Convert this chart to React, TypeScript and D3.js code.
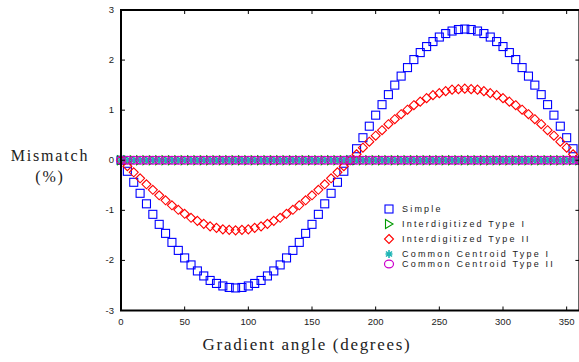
import * as d3 from "d3";
import React from "react";

const angles = [
  0, 5, 10, 15, 20, 25, 30, 35, 40, 45, 50, 55, 60, 65, 70, 75, 80, 85, 90,
  95, 100, 105, 110, 115, 120, 125, 130, 135, 140, 145, 150, 155, 160, 165, 170, 175, 180,
  185, 190, 195, 200, 205, 210, 215, 220, 225, 230, 235, 240, 245, 250, 255, 260, 265, 270,
  275, 280, 285, 290, 295, 300, 305, 310, 315, 320, 325, 330, 335, 340, 345, 350, 355, 360,
];

const simple = [
  0, -0.22, -0.44, -0.66, -0.87, -1.08, -1.28, -1.46, -1.64, -1.8, -1.95, -2.09, -2.21, -2.31, -2.4, -2.46, -2.51, -2.54, -2.55,
  -2.54, -2.51, -2.46, -2.4, -2.31, -2.21, -2.09, -1.95, -1.8, -1.64, -1.46, -1.28, -1.08, -0.87, -0.66, -0.44, -0.22, 0,
  0.23, 0.45, 0.68, 0.9, 1.11, 1.31, 1.5, 1.68, 1.85, 2.01, 2.15, 2.27, 2.37, 2.46, 2.53, 2.58, 2.61, 2.62,
  2.61, 2.58, 2.53, 2.46, 2.37, 2.27, 2.15, 2.01, 1.85, 1.68, 1.5, 1.31, 1.11, 0.9, 0.68, 0.45, 0.23, 0,
];

const interTypeII = [
  0, -0.12, -0.24, -0.36, -0.48, -0.59, -0.7, -0.8, -0.9, -0.99, -1.07, -1.15, -1.21, -1.27, -1.32, -1.35, -1.38, -1.39, -1.4,
  -1.39, -1.38, -1.35, -1.32, -1.27, -1.21, -1.15, -1.07, -0.99, -0.9, -0.8, -0.7, -0.59, -0.48, -0.36, -0.24, -0.12, 0,
  0.12, 0.25, 0.37, 0.49, 0.6, 0.72, 0.82, 0.92, 1.01, 1.1, 1.17, 1.24, 1.3, 1.34, 1.38, 1.41, 1.42, 1.43,
  1.42, 1.41, 1.38, 1.34, 1.3, 1.24, 1.17, 1.1, 1.01, 0.92, 0.82, 0.72, 0.6, 0.49, 0.37, 0.25, 0.12, 0,
];

const interTypeI = [
  0, 0, 0, 0, 0, 0, 0, 0, 0, 0, 0, 0, 0, 0, 0, 0, 0, 0, 0,
  0, 0, 0, 0, 0, 0, 0, 0, 0, 0, 0, 0, 0, 0, 0, 0, 0, 0,
  0, 0, 0, 0, 0, 0, 0, 0, 0, 0, 0, 0, 0, 0, 0, 0, 0, 0,
  0, 0, 0, 0, 0, 0, 0, 0, 0, 0, 0, 0, 0, 0, 0, 0, 0, 0,
];

const centroidTypeI = [
  0, 0, 0, 0, 0, 0, 0, 0, 0, 0, 0, 0, 0, 0, 0, 0, 0, 0, 0,
  0, 0, 0, 0, 0, 0, 0, 0, 0, 0, 0, 0, 0, 0, 0, 0, 0, 0,
  0, 0, 0, 0, 0, 0, 0, 0, 0, 0, 0, 0, 0, 0, 0, 0, 0, 0,
  0, 0, 0, 0, 0, 0, 0, 0, 0, 0, 0, 0, 0, 0, 0, 0, 0, 0,
];

const centroidTypeII = [
  0, 0, 0, 0, 0, 0, 0, 0, 0, 0, 0, 0, 0, 0, 0, 0, 0, 0, 0,
  0, 0, 0, 0, 0, 0, 0, 0, 0, 0, 0, 0, 0, 0, 0, 0, 0, 0,
  0, 0, 0, 0, 0, 0, 0, 0, 0, 0, 0, 0, 0, 0, 0, 0, 0, 0,
  0, 0, 0, 0, 0, 0, 0, 0, 0, 0, 0, 0, 0, 0, 0, 0, 0, 0,
];

const xTicks = [0, 50, 100, 150, 200, 250, 300, 350];
const yTicks = [-3, -2, -1, 0, 1, 2, 3];

const seriesNames = [
  "Simple",
  "Interdigitized Type I",
  "Interdigitized Type II",
  "Common Centroid Type I",
  "Common Centroid Type II",
];

type Kind = "square" | "triangle" | "diamond" | "star" | "circle";

const Marker = ({ kind, x, y }: { kind: Kind; x: number; y: number }) => {
  if (kind === "square")
    return <rect x={x - 4} y={y - 4} width={8} height={8} fill="none" stroke="#0000ff" strokeWidth={1.1} />;
  if (kind === "triangle")
    return <path d={`M${x - 3.5},${y - 4.5}L${x + 4},${y}L${x - 3.5},${y + 4.5}Z`} fill="none" stroke="#009a00" strokeWidth={1.1} />;
  if (kind === "diamond")
    return <path d={`M${x},${y - 4.5}L${x + 4.5},${y}L${x},${y + 4.5}L${x - 4.5},${y}Z`} fill="none" stroke="#ff0000" strokeWidth={1.1} />;
  if (kind === "star")
    return (
      <path
        d={`M${x},${y - 4}V${y + 4}M${x - 3.5},${y}H${x + 3.5}M${x - 3},${y - 2.5}L${x + 3},${y + 2.5}M${x - 3},${y + 2.5}L${x + 3},${y - 2.5}`}
        stroke="#1fb5b5"
        strokeWidth={1.6}
      />
    );
  return <ellipse cx={x} cy={y} rx={4.5} ry={3.8} fill="none" stroke="#cc00cc" strokeWidth={1.2} />;
};

export default function App() {
  const width = 579;
  const height = 362;
  const x = d3.scaleLinear().domain([0, 360]).range([121, 579.4]);
  const y = d3.scaleLinear().domain([-3, 3]).range([310.5, 10]);

  const series: { kind: Kind; values: number[] }[] = [
    { kind: "square", values: simple },
    { kind: "triangle", values: interTypeI },
    { kind: "diamond", values: interTypeII },
    { kind: "star", values: centroidTypeI },
    { kind: "circle", values: centroidTypeII },
  ];
  const legendY = [209, 224, 239, 254, 264];
  const legendKinds: Kind[] = ["square", "triangle", "diamond", "star", "circle"];

  const [x0, x1] = x.range();
  const [y0, y1] = y.range();

  return (
    <svg width={width} height={height} style={{ position: "absolute", left: 0, top: 0, background: "#fff" }}>
      {series.map((s, i) => (
        <g key={i}>
          {s.values.map((v, j) => (
            <Marker key={j} kind={s.kind} x={x(angles[j])} y={y(v)} />
          ))}
        </g>
      ))}

      {/* frame */}
      <rect x={x0} y={y1} width={x1 - x0} height={y0 - y1} fill="none" stroke="#000" strokeWidth={2} />
      {xTicks.map((t) => (
        <g key={t}>
          <line x1={x(t)} x2={x(t)} y1={y0} y2={y0 - 4} stroke="#000" strokeWidth={1} />
          <line x1={x(t)} x2={x(t)} y1={y1} y2={y1 + 4} stroke="#000" strokeWidth={1} />
          <text x={x(t)} y={y0 + 14} textAnchor="middle" fontFamily="Liberation Sans, Arial, sans-serif" fontSize={9.5} fill="#222">
            {t}
          </text>
        </g>
      ))}
      {yTicks.map((t) => (
        <g key={t}>
          <line x1={x0} x2={x0 + 4} y1={y(t)} y2={y(t)} stroke="#000" strokeWidth={1} />
          <line x1={x1} x2={x1 - 4} y1={y(t)} y2={y(t)} stroke="#000" strokeWidth={1} />
          <text x={x0 - 7} y={y(t) + 3} textAnchor="end" fontFamily="Liberation Sans, Arial, sans-serif" fontSize={9.5} fill="#222">
            {t}
          </text>
        </g>
      ))}

      {/* legend */}
      {legendKinds.map((k, i) => (
        <g key={k}>
          <Marker kind={k} x={389} y={legendY[i]} />
          <text
            x={402}
            y={legendY[i] + 3}
            fontFamily="Liberation Sans, Arial, sans-serif"
            fontSize={9}
            letterSpacing={2.2}
            fill="#222"
          >
            {seriesNames[i]}
          </text>
        </g>
      ))}

      {/* axis titles */}
      <text x={50} y={161} textAnchor="middle" fontFamily="Liberation Serif, Times New Roman, serif" fontSize={16} letterSpacing={1.8} fill="#222">
        Mismatch
      </text>
      <text x={50} y={182} textAnchor="middle" fontFamily="Liberation Serif, Times New Roman, serif" fontSize={16} letterSpacing={1.8} fill="#222">
        (%)
      </text>
      <text x={307} y={350} textAnchor="middle" fontFamily="Liberation Serif, Times New Roman, serif" fontSize={17} letterSpacing={1.7} fill="#222">
        Gradient angle (degrees)
      </text>
    </svg>
  );
}
